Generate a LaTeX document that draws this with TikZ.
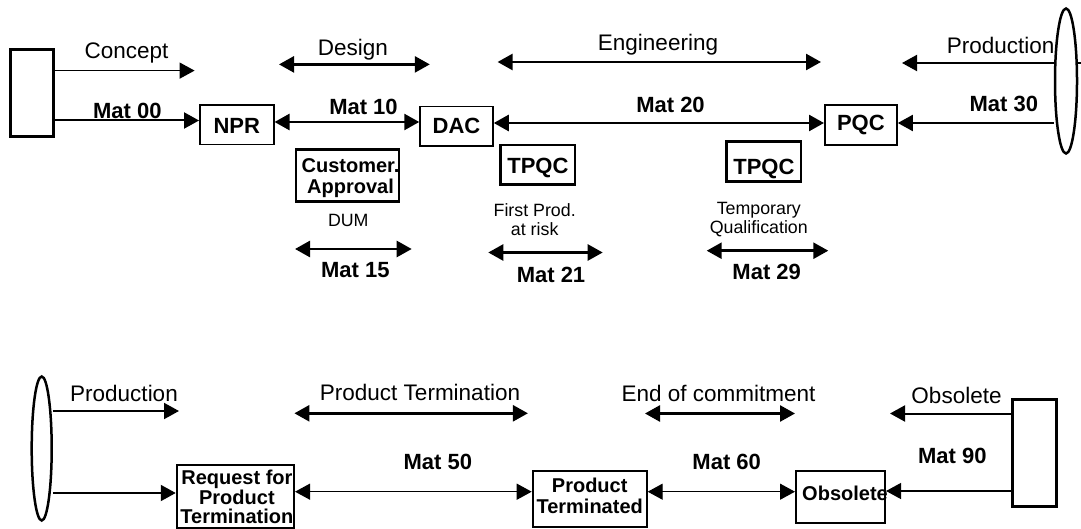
\documentclass[tikz,border=0pt]{standalone}
\usepackage{fontspec}
\setmainfont{Liberation Sans}
\usetikzlibrary{arrows.meta,shapes.geometric}
\newcommand\fReg{\fontsize{22.5}{26}\selectfont}
\newcommand\fSmall{\fontsize{17.8}{19.3}\selectfont}
\newcommand\fMat{\fontsize{22}{26}\selectfont\bfseries}
\newcommand\fBox{\fontsize{22}{24}\selectfont\bfseries}
\newcommand\fBoxS{\fontsize{20}{20.5}\selectfont\bfseries}
\newcommand\fBoxT{\fontsize{20}{19.5}\selectfont\bfseries}
\tikzset{
  >={Triangle[length=15pt,width=16pt]},
  thinline/.style={line width=1.3pt},
  midline/.style={line width=2pt},
  thickline/.style={line width=2.6pt},
  boxthin/.style={draw,line width=1.5pt,inner sep=0pt,font=\fBox},
  boxthick/.style={draw,line width=2.6pt,inner sep=0pt,font=\fBox},
  boxlow/.style={draw,line width=2pt,inner sep=0pt},
  intext/.style={font=\fBoxS,align=center,inner sep=0pt},
  oval/.style={draw,ellipse,line width=2.5pt,fill=white,inner sep=0pt},
  phase/.style={font=\fReg,inner sep=0pt},
  small/.style={font=\fSmall,inner sep=0pt,align=center},
  mat/.style={font=\fMat,inner sep=0pt},
}
\begin{document}
\begin{tikzpicture}[x=1pt,y=-1pt]
\useasboundingbox[fill=white] (0,0) rectangle (1081,529);

% ---------- top row nodes ----------
\node[draw,line width=3pt,minimum width=43pt,minimum height=87pt] (lrect) at (31.5,93.5) {};
\node[boxthin,minimum width=74pt,minimum height=39.6pt] (npr) at (236.8,124.8) {\raisebox{-1pt}[\height][\depth]{NPR}};
\node[boxthin,minimum width=73pt,minimum height=39.3pt] (dac) at (456.5,126.3) {DAC};
\node[boxthin,minimum width=72.3pt,minimum height=40pt] (pqc) at (860.9,125) {PQC};
\node[oval,minimum width=22pt,minimum height=145pt] (rell) at (1066,81) {};

\node[boxthick,minimum width=103pt,minimum height=52.4pt,
      label={[intext,xshift=3pt,yshift=-2.5pt]center:Customer.\\Approval}] (cust) at (347.5,175.5) {};
\node[boxthick,minimum width=74.3pt,minimum height=39.3pt] (tpqca) at (537.9,164.7) {\raisebox{-3.3pt}[\height][\depth]{TPQC}};
\node[boxthick,minimum width=74.3pt,minimum height=40pt] (tpqcb) at (763.9,161.7) {\raisebox{-7pt}[\height][\depth]{TPQC}};

% labels top
\node[phase] (lconcept) at (126.5,53) {Concept};
\node[phase] (ldesign) at (353,50) {Design};
\node[phase] (leng) at (658,45) {Engineering};
\node[phase] (lprodtop) at (1000.7,45) {Production};
\node[mat] (lm00) at (127.4,111) {Mat 00};
\node[mat] (lm10) at (363.5,107) {Mat 10};
\node[mat] (lm20) at (670.5,105) {Mat 20};
\node[mat] (lm30) at (1003.8,103.5) {Mat 30};

\node[small] (ldum) at (348.3,220) {DUM};
\node[small] (lfirst) at (534.7,219.5) {First Prod.\\at risk};
\node[small] (ltemp) at (758.8,219.7) {Temporary\\Qualification};
\node[mat] (lm15) at (355.3,270) {Mat 15};
\node[mat] (lm21) at (551,275) {Mat 21};
\node[mat] (lm29) at (766.7,271.7) {Mat 29};

% top connectors
\coordinate (cEnd) at (194.6,70.6);
\draw[thinline,->] (lrect.east |- cEnd) -- (cEnd);
\draw[midline,->] (lrect.east |- 0,120.5) -- (npr.west |- 0,120.5);
\coordinate (dA) at (279,64.4);
\coordinate (dB) at (429.8,64.4);
\draw[thickline,<->] (dA) -- (dB);
\draw[thickline,<->] (npr.east |- 0,122) -- (dac.west |- 0,122);
\coordinate (eA) at (497.6,62);
\coordinate (eB) at (821,62);
\draw[thickline,<->] (eA) -- (eB);
\draw[thickline,<->] (dac.east |- 0,123) -- (pqc.west |- 0,123);
\coordinate (pEnd) at (902,63);
\coordinate (pStub) at (1081,63);
\draw[midline,->] (rell.west |- pEnd) -- (pEnd);
\draw[midline] (rell.east |- pStub) -- (pStub);
\draw[midline,->] (rell.west |- 0,123) -- (pqc.east |- 0,123);

\coordinate (m15A) at (295,249);
\coordinate (m15B) at (411.7,249);
\draw[thickline,<->] (m15A) -- (m15B);
\coordinate (m21A) at (488.3,252.5);
\coordinate (m21B) at (602.7,252.5);
\draw[thickline,<->] (m21A) -- (m21B);
\coordinate (m29A) at (706.7,250.7);
\coordinate (m29B) at (828.3,250.7);
\draw[thickline,<->] (m29A) -- (m29B);

% ---------- bottom row nodes ----------
\node[oval,minimum width=20pt,minimum height=144pt] (lell) at (41.7,448.5) {};
\node[boxlow,minimum width=117.3pt,minimum height=62.5pt,
      label={[intext,font=\fBoxT,xshift=1.5pt,yshift=-1pt]center:Request for\\Product\\Termination}] (req) at (235.4,496.3) {};
\node[boxlow,minimum width=114pt,minimum height=56.6pt,
      label={[intext,yshift=3.2pt]center:Product\\Terminated}] (pt) at (589.7,499) {};
\node[boxlow,minimum width=89pt,minimum height=52pt,
      label={[intext,xshift=4.5pt,yshift=3.4pt]center:Obsolete}] (obs) at (840.5,496.7) {};
\node[draw,line width=3pt,minimum width=43.3pt,minimum height=106.6pt] (rrect) at (1034.4,452.7) {};

\node[phase] (lprodbot) at (124,393) {Production};
\node[phase] (lpterm) at (420,392) {Product Termination};
\node[phase] (lend) at (718.5,393.5) {End of commitment};
\node[phase] (lobs) at (956.5,395) {Obsolete};
\node[mat] (lm50) at (437.8,461.7) {Mat 50};
\node[mat] (lm60) at (726.7,461.7) {Mat 60};
\node[mat] (lm90) at (952.3,455.6) {Mat 90};

% bottom connectors
\coordinate (bpEnd) at (179,411);
\draw[midline,->] (lell.east |- bpEnd) -- (bpEnd);
\draw[midline,->] (lell.east |- 0,493) -- (req.west |- 0,493);
\coordinate (ptA) at (294.4,413.3);
\coordinate (ptB) at (527.9,413.3);
\draw[thickline,<->] (ptA) -- (ptB);
\draw[thinline,<->] (req.east |- 0,491.7) -- (pt.west |- 0,491.7);
\coordinate (ecA) at (645,413.5);
\coordinate (ecB) at (795,413.5);
\draw[thickline,<->] (ecA) -- (ecB);
\draw[thinline,<->] (pt.east |- 0,491.7) -- (obs.west |- 0,491.7);
\coordinate (obEnd) at (890,413.5);
\draw[midline,->] (rrect.west |- obEnd) -- (obEnd);
\draw[thinline,->] (rrect.west |- 0,491) -- (obs.east |- 0,491);
\end{tikzpicture}
\end{document}
